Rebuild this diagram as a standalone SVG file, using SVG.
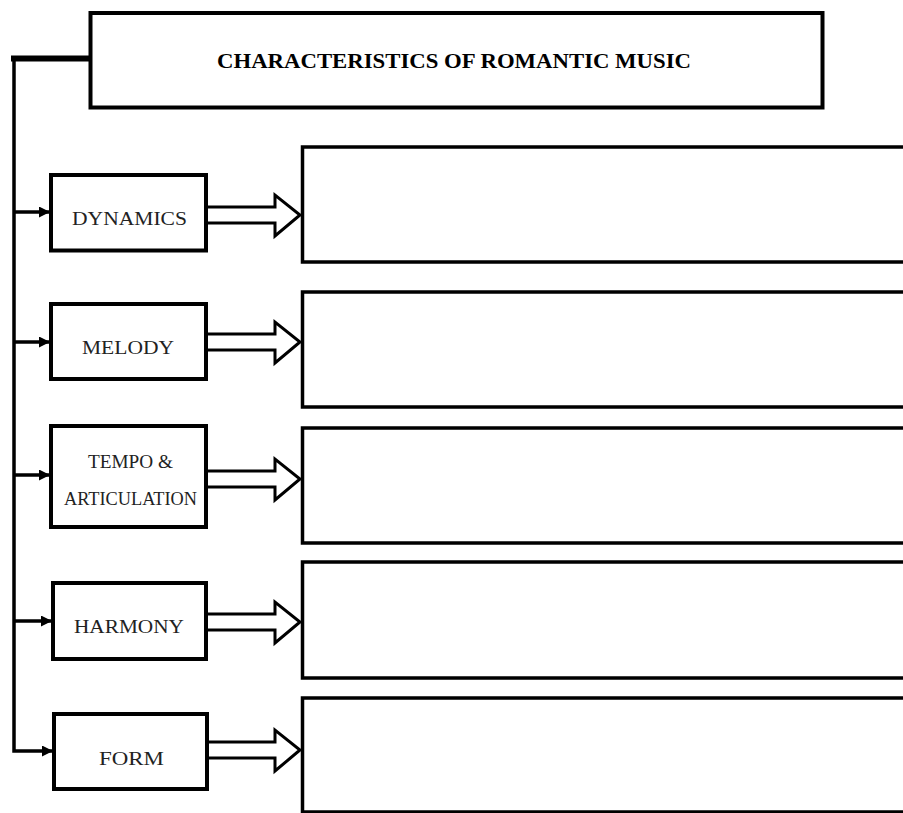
<svg xmlns="http://www.w3.org/2000/svg" width="903" height="813" viewBox="0 0 903 813">
<style>
.box{fill:#fff;stroke:#000;stroke-width:4}
.rbox{fill:#fff;stroke:#000;stroke-width:3.5}
.lbl{font-family:"Liberation Serif","DejaVu Serif",serif;font-size:19px;fill:#222;text-anchor:start}
.title{font-family:"Liberation Serif","DejaVu Serif",serif;font-size:20px;font-weight:bold;fill:#000}
.conn{fill:none;stroke:#000;stroke-width:3.5}
.hollow{fill:#fff;stroke:#000;stroke-width:3;stroke-linejoin:miter}
</style>
<defs>
<marker id="ah" markerWidth="11" markerHeight="11" refX="10" refY="5.5" orient="auto" markerUnits="userSpaceOnUse">
<path d="M0,0 L11,5.5 L0,11 z" fill="#000"/>
</marker>
</defs>
<rect width="903" height="813" fill="#fff"/>
<g id="connectors">
<path d="M11,58.5 H90" stroke="#000" stroke-width="6" fill="none"/>
<path class="conn" d="M14,56 V751 H52" marker-end="url(#ah)"/>
<path class="conn" d="M14,212 H49" marker-end="url(#ah)"/>
<path class="conn" d="M14,342 H49" marker-end="url(#ah)"/>
<path class="conn" d="M14,475 H49" marker-end="url(#ah)"/>
<path class="conn" d="M14,621 H51" marker-end="url(#ah)"/>
<path class="hollow" d="M206,207 H275 V195 L300,215 L275,236 V223 H206"/>
<path class="hollow" d="M206,334 H275 V322 L300,342 L275,363 V350 H206"/>
<path class="hollow" d="M206,471 H275 V459 L300,479 L275,500 V487 H206"/>
<path class="hollow" d="M206,614 H275 V602 L300,622 L275,643 V630 H206"/>
<path class="hollow" d="M207,742 H275 V730 L300,750 L275,771 V758 H207"/>
</g>
<g id="title">
<rect class="box" x="90.5" y="13" width="732" height="94.5"/>
<text class="title" x="217" y="68" textLength="474" lengthAdjust="spacingAndGlyphs">CHARACTERISTICS OF ROMANTIC MUSIC</text>
</g>
<g id="dynamics">
<rect class="box" x="51" y="175" width="155" height="75.5"/>
<text class="lbl" x="72" y="225" textLength="115" lengthAdjust="spacingAndGlyphs">DYNAMICS</text>
</g>
<g id="melody">
<rect class="box" x="51" y="304" width="155" height="75"/>
<text class="lbl" x="82" y="354" textLength="92" lengthAdjust="spacingAndGlyphs">MELODY</text>
</g>
<g id="tempo">
<rect class="box" x="51" y="426" width="155" height="101"/>
<text class="lbl" x="88" y="468" font-size="17" textLength="85" lengthAdjust="spacingAndGlyphs">TEMPO &amp;</text>
<text class="lbl" x="64" y="505" font-size="18" textLength="133" lengthAdjust="spacingAndGlyphs">ARTICULATION</text>
</g>
<g id="harmony">
<rect class="box" x="53" y="583" width="153" height="76"/>
<text class="lbl" x="74" y="633" textLength="110" lengthAdjust="spacingAndGlyphs">HARMONY</text>
</g>
<g id="form">
<rect class="box" x="54" y="714" width="153" height="75"/>
<text class="lbl" x="99" y="765" textLength="65" lengthAdjust="spacingAndGlyphs">FORM</text>
</g>
<g id="answer1"><rect class="rbox" x="302.5" y="147" width="620" height="115" stroke-width="3"/></g>
<g id="answer2"><rect class="rbox" x="302.5" y="292" width="620" height="115"/></g>
<g id="answer3"><rect class="rbox" x="302.5" y="428" width="620" height="115"/></g>
<g id="answer4"><rect class="rbox" x="302.5" y="562" width="620" height="116"/></g>
<g id="answer5"><rect class="rbox" x="302.5" y="698" width="620" height="114"/></g>
</svg>
